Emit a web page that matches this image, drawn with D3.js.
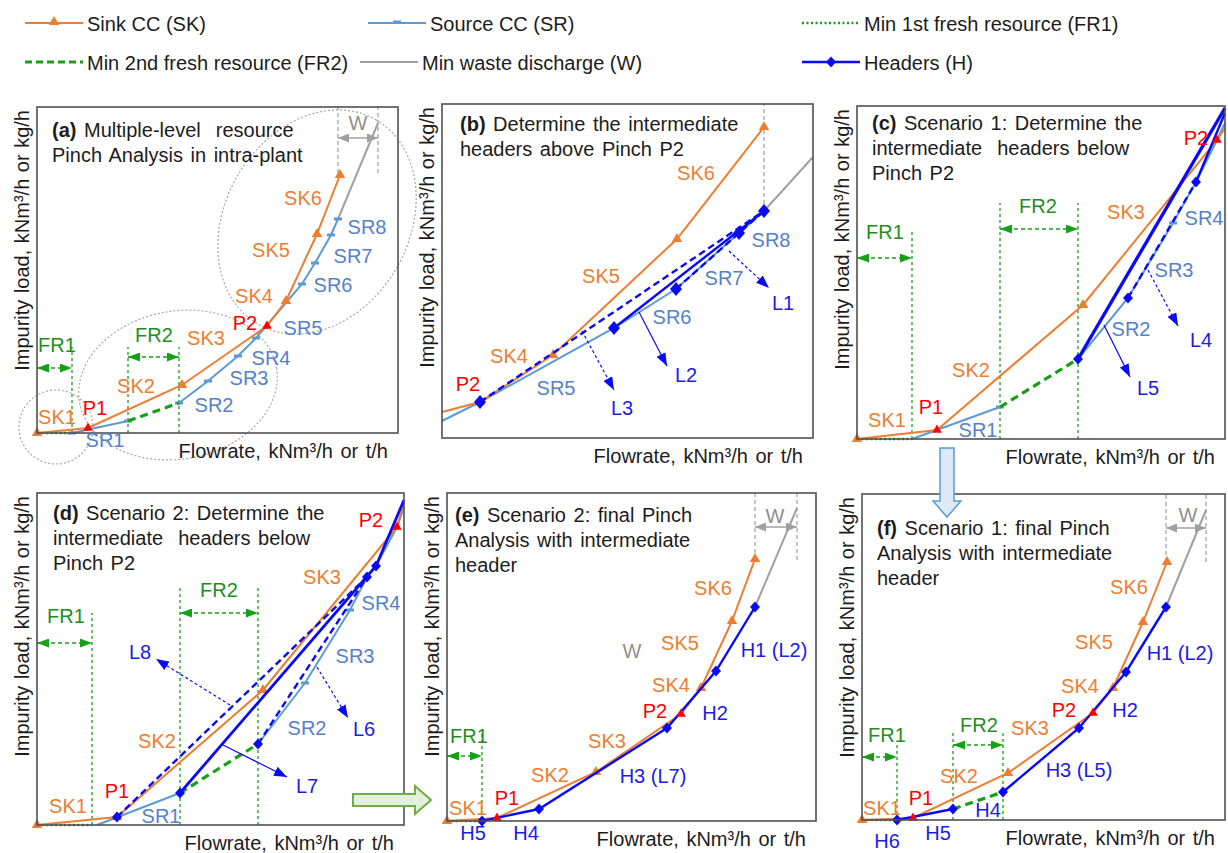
<!DOCTYPE html>
<html><head><meta charset="utf-8">
<script src="https://cdn.jsdelivr.net/npm/d3@7"></script>
<style>
body{margin:0;background:#fff;}
svg{display:block;font-family:"Liberation Sans",Arial,sans-serif;}
</style></head><body>
<svg id="chart" width="1228" height="853"></svg>
<script>
// ---------- colours ----------
const C = {sink:'#ed7d31', source:'#5b9bd5', srText:'#5581cc', header:'#0b0bf2', hText:'#1c1ce6',
  green:'#16a016', gText:'#1e8e1e', waste:'#a0a0a0', wText:'#8f8f8f', pinch:'#ff0000',
  frame:'#505050', text:'#1c1c1c', ellipse:'#a8a8a8'};

// ---------- data (flowrate, impurity load) in arbitrary units per panel ----------
// tag: 't' sink segment end, 'p' pinch point, 'k' source segment end
// (a) multiple-level resource pinch analysis
const extentA = [361, 326];
const sinkA = [[0,0,'t'],[51,5,'p'],[145,48,'t'],[230,107,'p'],[249,132,'t'],[280,199,'t'],[303,258,'t']];
const sourceA = [[35,0,'k'],[91,12,'k'],null,[142,30,'k'],[171,52,'k'],[201,77,'k'],[219,95,'k'],[265,149,'k'],[278,170,'k'],[294,198,'k'],[301,214,'k']];
const fr2A = [[91,12],[142,30]];
const wasteA = [[301,214],[341,310]];
const labelsA = [['SK1',20,9,'sk'],['P1',58,18,'p'],['SR1',68,-14,'sr'],['SK2',99,40,'sk'],['SK3',169,88,'sk'],
  ['SR2',177,21,'sr'],['SR3',212,48,'sr'],['SR4',234,68,'sr'],['P2',208,103,'p'],['SK4',217,130,'sk'],
  ['SR5',266,98,'sr'],['SR6',296,141,'sr'],['SR7',316,170,'sr'],['SR8',330,199,'sr'],['SK5',234,176,'sk'],['SK6',266,228,'sk']];
// groups circled in (a): centre, radii, tilt
const groupsA = [[19,6,37,37,0],[141,48,100,74,-10],[280,211,118,92,-60]];

// (b) headers above pinch P2
const extentB = [371, 334];
const sinkB = [[0,26,''],[38,36,'p'],[111,83,'t'],[235,199,'t'],[322,311,'t']];
const sourceB = [[0,17,''],[38,36,''],[172,110,''],[234,149,''],[297,205,''],[322,227,'']];
const wasteB = [[322,227],[371,281]];
const headersB = [{pts:[[38,36],[322,227]],dash:true},{pts:[[172,110],[322,227]],dash:false},{pts:[[234,149],[297,205],[322,227]],dash:true}];
const diamondsB = [[38,36],[172,110],[234,149],[297,205],[322,227]];
const calloutsB = [[[287,187],[327,150],true],[[197,126],[225,72],false],[[140,107],[172,48],true]];
const labelsB = [['SK6',254,258,'sk'],['SK5',159,155,'sk'],['SK4',67,75,'sk'],['P2',26,47,'p'],['SR5',114,43,'sr'],
  ['SR6',230,114,'sr'],['SR7',282,153,'sr'],['SR8',329,191,'sr'],['L1',341,128,'l'],['L2',244,56,'l'],['L3',180,23,'l']];

// (c) scenario 1, headers below P2
const extentC = [368, 333];
const sinkC = [[0,0,'t'],[80,9,'p'],[226,134,'t'],[360,299,'p'],[368,311,'']];
const sourceC = [[55,0,''],[143,32,'k'],null,[221,80,''],[271,141,''],[316,216,'k'],[339,257,''],[360,299,''],[368,316,'']];
const fr2C = [[143,32],[221,80]];
const headersC = [{pts:[[221,80],[368,331]],dash:false,w:3.4},{pts:[[271,141],[339,257]],dash:true},{pts:[[339,257],[368,326]],dash:false}];
const diamondsC = [[221,80],[271,141],[339,257]];
const calloutsC = [[[247,114],[273,62],false],[[291,169],[321,113],true]];
const labelsC = [['SK1',30,12,'sk'],['P1',74,25,'p'],['SR1',121,2,'sr'],['SK2',114,62,'sk'],['SK3',269,220,'sk'],
  ['SR2',274,103,'sr'],['SR3',317,162,'sr'],['SR4',347,214,'sr'],['L4',344,92,'l'],['L5',291,44,'l'],['P2',339,294,'p']];

// (d) scenario 2, headers below P2
const extentD = [367, 332];
const sinkD = [[0,0,'t'],[80,8,'p'],[226,135,'t'],[360,298,'p'],[367,322,'']];
const sourceD = [[60,0,''],[143,32,''],null,[221,81,''],[268,142,'k'],[313,215,'k'],[330,248,''],[339,259,''],[360,298,''],[367,318,'']];
const fr2D = [[143,32],[221,81]];
const headersD = [{pts:[[80,8],[330,248]],dash:true},{pts:[[143,32],[339,259],[367,325]],dash:false,w:2.8},{pts:[[221,81],[330,248]],dash:true}];
const diamondsD = [[80,8],[143,32],[221,81],[330,248],[339,259]];
const calloutsD = [[[193,120],[119,166],true],[[186,80],[250,48],false],[[280,158],[311,107],true]];
const labelsD = [['SK1',31,12,'sk'],['P1',80,27,'p'],['SR1',124,2,'sr'],['SK2',120,77,'sk'],['L8',103,166,'l'],
  ['L7',270,32,'l'],['L6',327,89,'l'],['SR2',270,90,'sr'],['SR3',318,162,'sr'],['SR4',344,215,'sr'],['SK3',285,241,'sk'],['P2',334,298,'p']];

// (e) scenario 2, final headers
const extentE = [369, 328];
const sinkE = [[0,0,'t'],[50,3,'p'],[149,49,'t'],[234,107,'p'],[254,133,'t'],[285,200,'t'],[308,262,'t']];
const headerE = [[35,0],[92,12],[220,93],[269,150],[308,214]];
const wasteE = [[308,214],[350,313]];
const labelsE = [['SK1',21,6,'sk'],['P1',60,16,'p'],['H5',26,-19,'h'],['H4',79,-19,'h'],['SK2',103,39,'sk'],['SK3',160,73,'sk'],
  ['H3 (L7)',206,38,'h'],['P2',208,103,'p'],['H2',268,101,'h'],['SK4',224,129,'sk'],['SK5',233,171,'sk'],
  ['H1 (L2)',327,164,'h'],['SK6',266,226,'sk'],['W',185,163,'w']];

// (f) scenario 1, final headers
const extentF = [363, 326];
const sinkF = [[0,0,'t'],[51,2,'p'],[146,47,'t'],[231,107,'p'],[251,132,'t'],[281,198,'t'],[305,258,'t']];
const headerF = [[35,0],[91,11],null,[141,28],[217,92],[264,148],[304,213]];
const fr2F = [[91,11],[141,28]];
const wasteF = [[304,213],[344,310]];
const labelsF = [['SK1',20,5,'sk'],['P1',59,15,'p'],['H6',25,-28,'h'],['H5',76,-20,'h'],['H4',126,3,'h'],['SK2',97,37,'sk'],
  ['SK3',168,85,'sk'],['H3 (L5)',217,43,'h'],['P2',202,103,'p'],['H2',263,103,'h'],['SK4',218,127,'sk'],
  ['SK5',232,171,'sk'],['H1 (L2)',318,160,'h'],['SK6',267,226,'sk']];

// legend entries
const legendItems = [
  ['Sink CC (SK)','sink'],['Source CC (SR)','source'],['Min 1st fresh resource (FR1)','fr1'],
  ['Min 2nd fresh resource (FR2)','fr2'],['Min waste discharge (W)','waste'],['Headers (H)','header']];

const xLabel = 'Flowrate, kNm\u00b3/h or t/h';
const yLabel = 'Impurity load, kNm\u00b3/h or kg/h';

// ---------- layout ----------
const panels = [
  {frame:[37,107,398,433], extent:extentA, sink:sinkA, source:sourceA, fr2:fr2A, waste:wasteA, labels:labelsA, groups:groupsA,
   fr1:{x:35,top:86,arrowY:65,label:[20,81]}, fr2g:{xs:[91,142],top:86,arrowY:76,label:[117,91]},
   w:{xs:[301,341],from:260,arrowY:295,label:[321,303]},
   title:{dx:15,dy:30,lines:[['(a)',' Multiple-level  resource'],['','Pinch Analysis in intra-plant']]}},
  {frame:[442,104,813,438], extent:extentB, sink:sinkB, source:sourceB, waste:wasteB, headers:headersB, diamonds:diamondsB,
   callouts:calloutsB, labels:labelsB, big:true, w:{xs:[322],from:227},
   title:{dx:18,dy:27,lines:[['(b)',' Determine the intermediate'],['','headers above Pinch P2']]}},
  {frame:[857,106,1225,439], extent:extentC, sink:sinkC, source:sourceC, fr2:fr2C, headers:headersC, diamonds:diamondsC,
   callouts:calloutsC, labels:labelsC,
   fr1:{x:55,top:209,arrowY:181,label:[28,200]}, fr2g:{xs:[143,221],top:236,arrowY:210,label:[181,226]},
   title:{dx:15,dy:24,lines:[['(c)',' Scenario 1: Determine the'],['','intermediate  headers below'],['','Pinch P2']]}},
  {frame:[37,493,404,825], extent:extentD, sink:sinkD, source:sourceD, fr2:fr2D, headers:headersD, diamonds:diamondsD,
   callouts:calloutsD, labels:labelsD,
   fr1:{x:55,top:212,arrowY:182,label:[29,202]}, fr2g:{xs:[143,221],top:238,arrowY:212,label:[182,228]},
   title:{dx:16,dy:27,lines:[['(d)',' Scenario 2: Determine the'],['','intermediate  headers below'],['','Pinch P2']]}},
  {frame:[447,493,816,821], extent:extentE, sink:sinkE, header:headerE, waste:wasteE, labels:labelsE,
   fr1:{x:35,top:88,arrowY:65,label:[22,78]}, w:{xs:[308,350],from:261,arrowY:294,label:[328,298]},
   title:{dx:8,dy:29,lines:[['(e)',' Scenario 2: final Pinch'],['','Analysis with intermediate'],['','header']]}},
  {frame:[862,494,1225,820], extent:extentF, sink:sinkF, header:headerF, fr2:fr2F, waste:wasteF, labels:labelsF,
   fr1:{x:35,top:77,arrowY:63,label:[25,78]}, fr2g:{xs:[91,141],top:87,arrowY:75,label:[117,88]},
   w:{xs:[304,344],from:258,arrowY:292,label:[326,298]},
   title:{dx:15,dy:41,lines:[['(f)',' Scenario 1: final Pinch'],['','Analysis with intermediate'],['','header']]}}
];

const FONT = 20;
const svg = d3.select('#chart');
const defs = svg.append('defs');

function arrowMarker(id, color, len, wid){
  defs.append('marker').attr('id', id)
    .attr('viewBox', `0 0 ${len} ${wid}`).attr('refX', len).attr('refY', wid/2)
    .attr('markerWidth', len).attr('markerHeight', wid).attr('markerUnits', 'userSpaceOnUse')
    .attr('orient', 'auto-start-reverse')
    .append('path').attr('d', `M0,0L${len},${wid/2}L0,${wid}Z`).attr('fill', color);
}
arrowMarker('hArrow', C.header, 13, 10);
arrowMarker('gArrow', C.green, 12, 9);
arrowMarker('wArrow', C.waste, 11, 9);

const tri = d3.symbol(d3.symbolTriangle, 48);
const triSmall = d3.symbol(d3.symbolTriangle, 40);
function diamondPath(hw, hh){ return `M0,${-hh}L${hw},0L0,${hh}L${-hw},0Z`; }

const labelColor = {sk:C.sink, sr:C.srText, p:C.pinch, l:C.hText, h:C.hText, w:C.wText};

function drawPanel(P){
  const [L, T, R, B] = P.frame;
  const x = d3.scaleLinear().domain([0, P.extent[0]]).range([L, R]);
  const y = d3.scaleLinear().domain([0, P.extent[1]]).range([B, T]);
  const line = d3.line().defined(d => d).x(d => x(d[0])).y(d => y(d[1]));
  const g = svg.append('g');

  // grouping ellipses
  (P.groups || []).forEach(e => {
    const cx = x(e[0]), cy = y(e[1]);
    g.append('ellipse').attr('cx', cx).attr('cy', cy).attr('rx', e[2]).attr('ry', e[3])
      .attr('transform', `rotate(${e[4]},${cx},${cy})`)
      .attr('fill', 'none').attr('stroke', C.ellipse).attr('stroke-width', 1.2).attr('stroke-dasharray', '2,2');
  });

  // fresh resource guides
  if (P.fr1){
    const f = P.fr1;
    g.append('path').attr('d', line([[0,0],[f.x,0]])).attr('stroke', C.green).attr('stroke-width', 2.4)
      .attr('stroke-dasharray', '2,2.5').attr('fill', 'none');
    g.append('path').attr('d', line([[f.x,0],[f.x,f.top]])).attr('stroke', C.green).attr('stroke-width', 1.3)
      .attr('stroke-dasharray', '3,3').attr('fill', 'none');
    g.append('path').attr('d', line([[0,f.arrowY],[f.x,f.arrowY]])).attr('stroke', C.green).attr('stroke-width', 1.4)
      .attr('stroke-dasharray', '4,3').attr('fill', 'none')
      .attr('marker-start', 'url(#gArrow)').attr('marker-end', 'url(#gArrow)');
    g.append('text').attr('x', x(f.label[0])).attr('y', y(f.label[1])).attr('text-anchor', 'middle')
      .attr('fill', C.gText).attr('font-size', FONT).text('FR1');
  }
  if (P.fr2g){
    const f = P.fr2g;
    f.xs.forEach(v => g.append('path').attr('d', line([[v,0],[v,f.top]])).attr('stroke', C.green)
      .attr('stroke-width', 1.3).attr('stroke-dasharray', '3,3').attr('fill', 'none'));
    g.append('path').attr('d', line([[f.xs[0],f.arrowY],[f.xs[1],f.arrowY]])).attr('stroke', C.green).attr('stroke-width', 1.4)
      .attr('stroke-dasharray', '4,3').attr('fill', 'none')
      .attr('marker-start', 'url(#gArrow)').attr('marker-end', 'url(#gArrow)');
    g.append('text').attr('x', x(f.label[0])).attr('y', y(f.label[1])).attr('text-anchor', 'middle')
      .attr('fill', C.gText).attr('font-size', FONT).text('FR2');
  }

  // waste discharge guides
  if (P.w){
    const w = P.w;
    w.xs.forEach(v => g.append('path').attr('d', line([[v,w.from],[v,P.extent[1]]])).attr('stroke', '#8a8a8a')
      .attr('stroke-width', 1).attr('stroke-dasharray', '4,3').attr('fill', 'none'));
    if (w.arrowY !== undefined){
      g.append('path').attr('d', line([[w.xs[0],w.arrowY],[w.xs[1],w.arrowY]])).attr('stroke', C.waste)
        .attr('stroke-width', 1.4).attr('fill', 'none')
        .attr('marker-start', 'url(#wArrow)').attr('marker-end', 'url(#wArrow)');
      g.append('text').attr('x', x(w.label[0])).attr('y', y(w.label[1])).attr('text-anchor', 'middle')
        .attr('fill', C.wText).attr('font-size', FONT).text('W');
    }
  }
  if (P.waste){
    g.append('path').attr('d', line(P.waste)).attr('stroke', C.waste).attr('stroke-width', 2).attr('fill', 'none');
  }

  // source composite curve
  if (P.source){
    g.append('path').attr('d', line(P.source)).attr('stroke', C.source).attr('stroke-width', 2).attr('fill', 'none');
    g.selectAll(null).data(P.source.filter(d => d && d[2] === 'k')).join('rect')
      .attr('x', d => x(d[0]) - 4).attr('y', d => y(d[1]) - 1.5).attr('width', 8).attr('height', 3)
      .attr('fill', C.source);
  }
  // second fresh resource
  if (P.fr2){
    g.append('path').attr('d', line(P.fr2)).attr('stroke', C.green).attr('stroke-width', 3.2)
      .attr('stroke-dasharray', '8,5').attr('fill', 'none');
  }
  // sink composite curve
  g.append('path').attr('d', line(P.sink)).attr('stroke', C.sink).attr('stroke-width', 2).attr('fill', 'none');
  g.selectAll(null).data(P.sink.filter(d => d[2] === 't')).join('path')
    .attr('d', tri).attr('transform', d => `translate(${x(d[0])},${y(d[1])})`).attr('fill', C.sink);

  // intermediate header lines
  (P.headers || []).forEach(h => {
    g.append('path').attr('d', line(h.pts)).attr('stroke', C.header).attr('stroke-width', h.w || 2.4)
      .attr('stroke-dasharray', h.dash ? '7,4' : null).attr('fill', 'none');
  });
  if (P.header){
    g.append('path').attr('d', line(P.header)).attr('stroke', C.header).attr('stroke-width', 2.4).attr('fill', 'none');
  }
  (P.callouts || []).forEach(c => {
    g.append('path').attr('d', line([c[0], c[1]])).attr('stroke', C.header).attr('stroke-width', 1.2)
      .attr('stroke-dasharray', c[2] ? '3,2.5' : null).attr('fill', 'none').attr('marker-end', 'url(#hArrow)');
  });

  // pinch points
  g.selectAll(null).data(P.sink.filter(d => d[2] === 'p')).join('path')
    .attr('d', triSmall).attr('transform', d => `translate(${x(d[0])},${y(d[1])})`).attr('fill', C.pinch);

  // header end points
  const dia = P.big ? diamondPath(6, 7) : diamondPath(5, 5.5);
  const dpts = (P.diamonds || []).concat((P.header || []).filter(d => d));
  g.selectAll(null).data(dpts).join('path')
    .attr('d', dia).attr('transform', d => `translate(${x(d[0])},${y(d[1])})`).attr('fill', C.header);

  // frame
  g.append('rect').attr('x', L).attr('y', T).attr('width', R - L).attr('height', B - T)
    .attr('fill', 'none').attr('stroke', C.frame).attr('stroke-width', 1.6);

  // segment labels
  g.selectAll(null).data(P.labels).join('text')
    .attr('x', d => x(d[1])).attr('y', d => y(d[2])).attr('text-anchor', 'middle')
    .attr('font-size', FONT).attr('fill', d => labelColor[d[3]]).text(d => d[0]);

  // title
  const t = g.append('text').attr('font-size', FONT).attr('fill', C.text).attr('word-spacing', 2);
  P.title.lines.forEach((ln, i) => {
    const row = t.append('tspan').attr('x', L + P.title.dx).attr('y', T + P.title.dy + i * 25);
    if (ln[0]) row.append('tspan').attr('font-weight', 'bold').text(ln[0]);
    row.append('tspan').attr('xml:space', 'preserve').text(ln[1]);
  });

  // axis titles
  g.append('text').attr('x', R - 10).attr('y', B + 25).attr('text-anchor', 'end').attr('font-size', FONT)
    .attr('word-spacing', 2).attr('fill', C.text).text(xLabel);
  g.append('text').attr('transform', `translate(${L - 8},${T + 3}) rotate(-90)`).attr('text-anchor', 'end')
    .attr('font-size', FONT).attr('word-spacing', 1).attr('fill', C.text).text(yLabel);
}

panels.forEach(drawPanel);

// ---------- flow arrows between panels ----------
svg.append('path').attr('d', 'M940,448L954,448L954,501L961,501L947,517L933,501L940,501Z')
  .attr('fill', '#dde9f6').attr('stroke', '#5b9bd5').attr('stroke-width', 1.5);
svg.append('path').attr('d', 'M353,794L415,794L415,786L431,800L415,814L415,806L353,806Z')
  .attr('fill', '#e3f0dc').attr('stroke', '#70ad47').attr('stroke-width', 2);

// ---------- legend ----------
const legPos = [[25,23],[368,23],[802,23],[25,62],[360,62],[802,62]];
const leg = svg.append('g');
legendItems.forEach((it, i) => {
  const [lx, ly] = legPos[i];
  const len = 58;
  const st = {sink:[C.sink,2,null],source:[C.source,2,null],fr1:[C.green,2.4,'2,2.5'],fr2:[C.green,3.2,'7,4'],
    waste:[C.waste,2,null],header:[C.header,2.4,null]}[it[1]];
  leg.append('line').attr('x1', lx).attr('x2', lx + len).attr('y1', ly).attr('y2', ly)
    .attr('stroke', st[0]).attr('stroke-width', st[1]).attr('stroke-dasharray', st[2]);
  const mx = lx + len / 2;
  if (it[1] === 'sink') leg.append('path').attr('d', tri).attr('transform', `translate(${mx},${ly - 1})`).attr('fill', C.sink);
  if (it[1] === 'source') leg.append('rect').attr('x', mx - 4).attr('y', ly - 2.5).attr('width', 8).attr('height', 3).attr('fill', C.source);
  if (it[1] === 'header') leg.append('path').attr('d', diamondPath(5, 5.5)).attr('transform', `translate(${mx},${ly})`).attr('fill', C.header);
  leg.append('text').attr('x', lx + len + 4).attr('y', ly + 8).attr('font-size', 20).attr('fill', C.text).text(it[0]);
});
</script>
</body></html>
